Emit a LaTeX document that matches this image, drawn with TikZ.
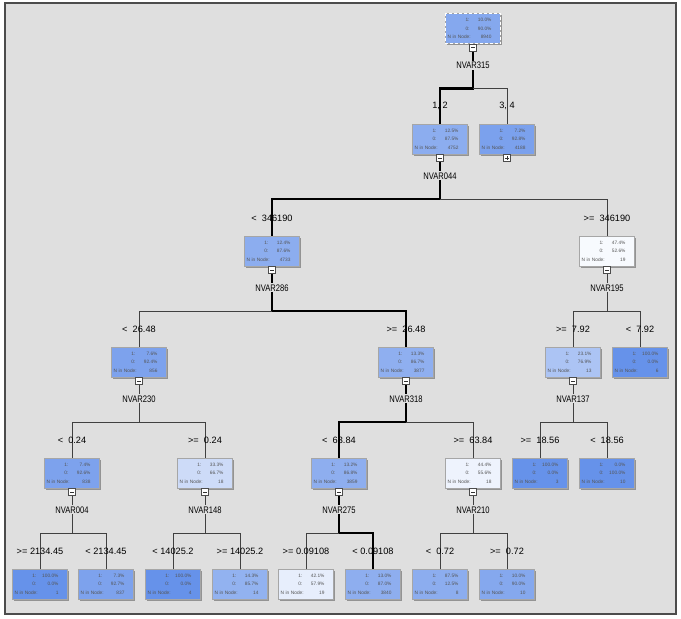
\documentclass[tikz,border=0pt]{standalone}
\usepackage{fontspec}
\setmainfont{Liberation Sans}
\newfontfamily\narrowfont[FakeStretch=0.8]{Liberation Sans}
\usetikzlibrary{positioning,shadows,backgrounds}

\definecolor{leafblue}{HTML}{6692EA}
\definecolor{panelgray}{HTML}{DFDFDF}
\definecolor{statgray}{HTML}{555555}

% three rows of a tree box
\newcommand{\boxstats}[3]{%
  \makebox[22pt][r]{1:}\makebox[22pt][r]{#1}\\
  \makebox[22pt][r]{0:}\makebox[22pt][r]{#2}\\
  \makebox[22pt][l]{N in Node:}\makebox[22pt][r]{#3}}

\begin{document}
\begin{tikzpicture}[x=1pt,y=-1pt,
    treebox/.style={draw=black!35,minimum width=55pt,minimum height=30pt,text width=51pt,align=left,inner sep=1.5pt,
      font=\fontsize{4.8}{8.5}\selectfont,text=statgray,
      drop shadow={shadow xshift=1.5pt,shadow yshift=-1.5pt,fill=black!50,opacity=.8}},
    splitlab/.style={fill=panelgray,inner sep=1pt,font=\narrowfont\fontsize{9.5}{10}\selectfont},
    branchlab/.style={inner sep=1pt,font=\fontsize{9.2}{10}\selectfont},
    togglesq/.style={draw=black!70,fill=white,minimum size=7pt,inner sep=0pt,anchor=north,
      path picture={\draw[black!80] ([xshift=-2pt]path picture bounding box.center) -- ([xshift=2pt]path picture bounding box.center);}},
    opensq/.style={togglesq,
      path picture={\draw[black!80] ([xshift=-2pt]path picture bounding box.center) -- ([xshift=2pt]path picture bounding box.center)
        ([yshift=-2pt]path picture bounding box.center) -- ([yshift=2pt]path picture bounding box.center);}},
    thinedge/.style={draw=black!75,line width=0.8pt},
    thickedge/.style={draw=black,line width=2.6pt}]
  \useasboundingbox (0,0) rectangle (681,619);
  \begin{scope}[on background layer]
    \fill[white] (0,0) rectangle (681,619);
    \draw[black!70,line width=1.2pt,fill=panelgray] (5,3) rectangle (676,614);
  \end{scope}

  % level 0 and 1
  \node[treebox,fill=leafblue!80!white] (n0) at (473,28.5) {\boxstats{10.0\%}{90.0\%}{8940}};
  \draw[white,line width=1.2pt,dash pattern=on 3pt off 2pt] (n0.north west) rectangle (n0.south east);
  \node[treebox,fill=leafblue!75!white] (n1) at (440,139) {\boxstats{12.5\%}{87.5\%}{4752}};
  \node[treebox,fill=leafblue!86!white] (n2) at (507,139) {\boxstats{7.2\%}{92.8\%}{4188}};

  % level 2
  \node[treebox,fill=leafblue!75!white] (n3) at (272,251) {\boxstats{12.4\%}{87.6\%}{4733}};
  \node[treebox,fill=leafblue!5!white] (n4) at (607,251) {\boxstats{47.4\%}{52.6\%}{19}};

  % level 3
  \node[treebox,fill=leafblue!85!white] (n5) at (139,362) {\boxstats{7.6\%}{92.4\%}{856}};
  \node[treebox,fill=leafblue!73!white] (n6) at (406,362) {\boxstats{13.3\%}{86.7\%}{3877}};
  \node[treebox,fill=leafblue!54!white] (n7) at (573,362) {\boxstats{23.1\%}{76.9\%}{13}};
  \node[treebox,fill=leafblue] (n8) at (640,362) {\boxstats{100.0\%}{0.0\%}{6}};

  % level 4
  \node[treebox,fill=leafblue!85!white] (n9) at (72,473) {\boxstats{7.4\%}{92.6\%}{838}};
  \node[treebox,fill=leafblue!33!white] (n10) at (205,473) {\boxstats{33.3\%}{66.7\%}{18}};
  \node[treebox,fill=leafblue!74!white] (n11) at (339,473) {\boxstats{13.2\%}{86.8\%}{3859}};
  \node[treebox,fill=leafblue!11!white] (n12) at (473,473) {\boxstats{44.4\%}{55.6\%}{18}};
  \node[treebox,fill=leafblue] (n13) at (540,473) {\boxstats{100.0\%}{0.0\%}{3}};
  \node[treebox,fill=leafblue] (n14) at (607,473) {\boxstats{0.0\%}{100.0\%}{10}};

  % level 5
  \node[treebox,fill=leafblue] (n15) at (40,584) {\boxstats{100.0\%}{0.0\%}{1}};
  \node[treebox,fill=leafblue!85!white] (n16) at (106,584) {\boxstats{7.3\%}{92.7\%}{837}};
  \node[treebox,fill=leafblue] (n17) at (173,584) {\boxstats{100.0\%}{0.0\%}{4}};
  \node[treebox,fill=leafblue!71!white] (n18) at (240,584) {\boxstats{14.3\%}{85.7\%}{14}};
  \node[treebox,fill=leafblue!16!white] (n19) at (306,584) {\boxstats{42.1\%}{57.9\%}{19}};
  \node[treebox,fill=leafblue!74!white] (n20) at (373,584) {\boxstats{13.0\%}{87.0\%}{3840}};
  \node[treebox,fill=leafblue!75!white] (n21) at (440,584) {\boxstats{87.5\%}{12.5\%}{8}};
  \node[treebox,fill=leafblue!80!white] (n22) at (507,584) {\boxstats{10.0\%}{90.0\%}{10}};

  % toggles under the boxes
  \foreach \p in {n0,n1,n3,n4,n5,n6,n7,n9,n10,n11,n12}
    \node[togglesq] (q\p) at (\p.south) {};
  \node[opensq] (qn2) at (n2.south) {};

  % split variables
  \node[splitlab,below=17pt of n0] (s0) {NVAR315};
  \node[splitlab,below=17pt of n1] (s1) {NVAR044};
  \node[splitlab,below=17pt of n3] (s3) {NVAR286};
  \node[splitlab,below=17pt of n4] (s4) {NVAR195};
  \node[splitlab,below=17pt of n5] (s5) {NVAR230};
  \node[splitlab,below=17pt of n6] (s6) {NVAR318};
  \node[splitlab,below=17pt of n7] (s7) {NVAR137};
  \node[splitlab,below=17pt of n9] (s9) {NVAR004};
  \node[splitlab,below=17pt of n10] (s10) {NVAR148};
  \node[splitlab,below=17pt of n11] (s11) {NVAR275};
  \node[splitlab,below=17pt of n12] (s12) {NVAR210};

  % branch conditions
  \node[branchlab,above=13pt of n1] (c1) {1, 2};
  \node[branchlab,above=13pt of n2] (c2) {3, 4};
  \node[branchlab,above=13pt of n3] (c3) {<\ \ 346190};
  \node[branchlab,above=13pt of n4] (c4) {>=\ \ 346190};
  \node[branchlab,above=13pt of n5] (c5) {<\ \ 26.48};
  \node[branchlab,above=13pt of n6] (c6) {>=\ \ 26.48};
  \node[branchlab,above=13pt of n7] (c7) {>=\ \ 7.92};
  \node[branchlab,above=13pt of n8] (c8) {<\ \ 7.92};
  \node[branchlab,above=13pt of n9] (c9) {<\ \ 0.24};
  \node[branchlab,above=13pt of n10] (c10) {>=\ \ 0.24};
  \node[branchlab,above=13pt of n11] (c11) {<\ \ 63.84};
  \node[branchlab,above=13pt of n12] (c12) {>=\ \ 63.84};
  \node[branchlab,above=13pt of n13] (c13) {>=\ \ 18.56};
  \node[branchlab,above=13pt of n14] (c14) {<\ \ 18.56};
  \node[branchlab,above=13pt of n15] (c15) {>= 2134.45};
  \node[branchlab,above=13pt of n16] (c16) {< 2134.45};
  \node[branchlab,above=13pt of n17] (c17) {< 14025.2};
  \node[branchlab,above=13pt of n18] (c18) {>= 14025.2};
  \node[branchlab,above=13pt of n19] (c19) {>= 0.09108};
  \node[branchlab,above=13pt of n20] (c20) {< 0.09108};
  \node[branchlab,above=13pt of n21] (c21) {<\ \ 0.72};
  \node[branchlab,above=13pt of n22] (c22) {>=\ \ 0.72};

  % connectors
  \begin{scope}[on background layer]
    \foreach \p in {n0,n1,n3,n4,n5,n6,n7,n9,n10,n11,n12}
      \path (\p) ++(0,60) coordinate (j\p);
    \draw[thickedge] (n0.south) -- (jn0) -| (n1.north);
    \draw[thinedge] (jn0) -| (n2.north);
    \draw[thickedge] (n1.south) -- (jn1) -| (n3.north);
    \draw[thinedge] (jn1) -| (n4.north);
    \draw[thickedge] (n3.south) -- (jn3) -| (n6.north);
    \draw[thinedge] (jn3) -| (n5.north);
    \draw[thinedge] (n4.south) -- (jn4) -| (n7.north) (jn4) -| (n8.north);
    \draw[thinedge] (n5.south) -- (jn5) -| (n9.north) (jn5) -| (n10.north);
    \draw[thickedge] (n6.south) -- (jn6) -| (n11.north);
    \draw[thinedge] (jn6) -| (n12.north);
    \draw[thinedge] (n7.south) -- (jn7) -| (n13.north) (jn7) -| (n14.north);
    \draw[thinedge] (n9.south) -- (jn9) -| (n15.north) (jn9) -| (n16.north);
    \draw[thinedge] (n10.south) -- (jn10) -| (n17.north) (jn10) -| (n18.north);
    \draw[thickedge] (n11.south) -- (jn11) -| (n20.north);
    \draw[thinedge] (jn11) -| (n19.north);
    \draw[thinedge] (n12.south) -- (jn12) -| (n21.north) (jn12) -| (n22.north);
  \end{scope}
\end{tikzpicture}
\end{document}
